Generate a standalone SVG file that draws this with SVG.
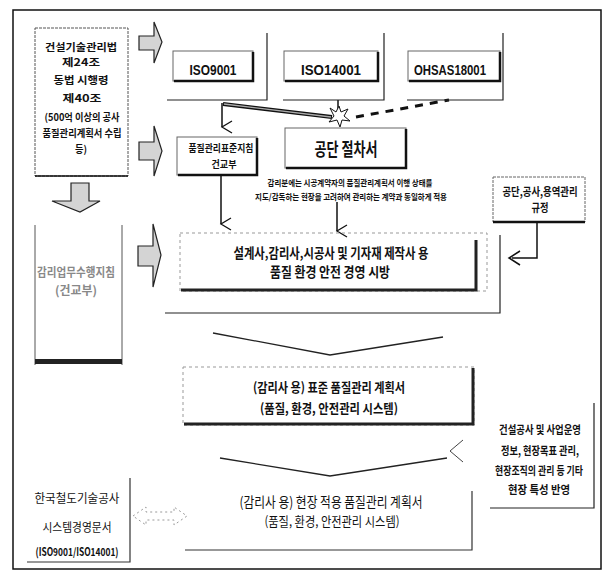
<svg xmlns="http://www.w3.org/2000/svg" width="604" height="574" viewBox="0 0 604 574">
<defs>
<style>
.t{font-family:"Noto Sans CJK KR","Liberation Sans",sans-serif;font-weight:bold;fill:#111;text-anchor:middle}
.r{font-family:"Noto Sans CJK KR","Liberation Sans",sans-serif;font-weight:normal;fill:#111;text-anchor:middle}
.l{font-family:"Liberation Sans","Noto Sans CJK KR",sans-serif;font-weight:bold;fill:#111;text-anchor:middle}
.g{fill:#888}
.box{fill:#fff;stroke:#555;stroke-width:1;stroke-dasharray:3 1}
.sh{fill:none;stroke:#111;stroke-width:2.5}
.fr{fill:none;stroke:#222;stroke-width:1.2}
.ln{fill:none;stroke:#111;stroke-width:1.5}
.blk{fill:#d4d4d4;stroke:#222;stroke-width:1.2}
.faint{fill:none;stroke:#999;stroke-width:1;stroke-dasharray:3 3}
</style>
<marker id="vh" markerWidth="14" markerHeight="14" refX="7" refY="12" orient="auto" markerUnits="userSpaceOnUse" viewBox="0 0 14 14">
<path d="M1,2 L7,12 L13,2" fill="none" stroke="#111" stroke-width="1.3"/>
</marker>
</defs>
<rect x="0" y="0" width="604" height="574" fill="#fff"/>
<rect x="13" y="10" width="588" height="559" fill="none" stroke="#111" stroke-width="1.5"/>

<g id="connectors">
<path class="blk" d="M139,36 H154 V22 L162,42 L154,63 V50 H139 Z"/>
<path class="blk" d="M139,142 H154 V126 L162,151 L154,176 V160 H139 Z"/>
<path class="blk" d="M138,246 H153 V224 L161,255 L153,287 V266 H138 Z"/>
<path class="blk" d="M71,183 H89 V201 H100 L80,212 L52,201 H71 Z"/>
<line class="ln" x1="222" y1="103" x2="222" y2="127" marker-end="url(#vh)"/>
<line class="ln" x1="221" y1="176" x2="221" y2="224" marker-end="url(#vh)"/>
<line class="ln" x1="337" y1="202" x2="337" y2="231" marker-end="url(#vh)"/>
<line x1="223" y1="104" x2="332" y2="117" stroke="#111" stroke-width="4"/>
<line x1="224" y1="104" x2="331" y2="117" stroke="#aaa" stroke-width="1.3"/>
<line class="ln" x1="338" y1="100" x2="338" y2="109"/>
<line x1="356" y1="117" x2="449" y2="100" stroke="#111" stroke-width="3" stroke-dasharray="8 7"/>
<path d="M330,108 L336,112 L339,106 L341,112 L348,109 L344,116 L350,121 L342,120 L340,127 L337,120 L329,122 L334,116 Z" fill="#fff" stroke="#111" stroke-width="1"/>
<path class="ln" d="M537,223 V258 H512"/>
<path d="M520,251 L509,258 L520,265" fill="none" stroke="#111" stroke-width="1.5"/>
<polyline points="213,333 330,355 443,337" fill="none" stroke="#222" stroke-width="1.3"/>
<polyline points="220,458 330,476 447,458" fill="none" stroke="#222" stroke-width="1.3"/>
<polyline points="463,440 450,451 463,462" fill="none" stroke="#444" stroke-width="1"/>
<path d="M133,516 L146,507 V512 H174 V507 L187,516 L174,525 V520 H146 V525 Z" fill="none" stroke="#999" stroke-width="1" stroke-dasharray="2 3"/>
</g>

<g id="n-law">
<rect class="box" x="35" y="28" width="93" height="148"/>
<line x1="35" y1="176" x2="128" y2="176" stroke="#111" stroke-width="1.5"/>
<text class="t" x="81" y="51" font-size="10.5" textLength="72" lengthAdjust="spacingAndGlyphs">건설기술관리법</text>
<text class="t" x="81" y="66" font-size="10.5" textLength="38" lengthAdjust="spacingAndGlyphs">제24조</text>
<text class="t" x="81" y="84" font-size="10.5" textLength="55" lengthAdjust="spacingAndGlyphs">동법 시행령</text>
<text class="t" x="82" y="102" font-size="10.5" textLength="39" lengthAdjust="spacingAndGlyphs">제40조</text>
<text class="t" x="82" y="121" font-size="10" textLength="75" lengthAdjust="spacingAndGlyphs">(500억 이상의 공사</text>
<text class="t" x="82" y="137" font-size="10" textLength="79" lengthAdjust="spacingAndGlyphs">품질관리계획서 수립</text>
<text class="t" x="81" y="153" font-size="10" textLength="12" lengthAdjust="spacingAndGlyphs">등)</text>
</g>

<g id="n-iso9001">
<path class="fr" d="M267,33 V100 H167"/>
<rect x="173" y="51" width="80" height="30" fill="#fff" stroke="#666" stroke-width="1"/>
<path class="sh" d="M253,52 V81 H174"/>
<text class="l" x="213" y="75" font-size="15" textLength="47" lengthAdjust="spacingAndGlyphs">ISO9001</text>
</g>

<g id="n-iso14001">
<path class="fr" d="M384,33 V100 H283"/>
<rect x="284" y="51" width="94" height="30" fill="#fff" stroke="#666" stroke-width="1"/>
<path class="sh" d="M378,52 V81 H285"/>
<text class="l" x="331" y="75" font-size="15" textLength="60" lengthAdjust="spacingAndGlyphs">ISO14001</text>
</g>

<g id="n-ohsas">
<path class="fr" d="M503,33 V100 H407"/>
<rect x="408" y="51" width="92" height="30" fill="#fff" stroke="#666" stroke-width="1"/>
<path class="sh" d="M500,52 V81 H409"/>
<text class="l" x="450" y="75" font-size="15" textLength="72" lengthAdjust="spacingAndGlyphs">OHSAS18001</text>
</g>

<g id="n-standard-guide">
<rect x="177" y="137" width="80" height="38" fill="#fff" stroke="#666" stroke-width="1"/>
<path class="sh" d="M257,138 V175 H178"/>
<text class="t" x="221" y="152" font-size="10" textLength="65" lengthAdjust="spacingAndGlyphs">품질관리표준지침</text>
<text class="t" x="224" y="168" font-size="10" textLength="25" lengthAdjust="spacingAndGlyphs">건교부</text>
</g>

<g id="n-procedure">
<rect x="285" y="128" width="121" height="40" fill="#fff" stroke="#666" stroke-width="1"/>
<path class="sh" d="M406,129 V168 H286"/>
<text class="t" x="346" y="156" font-size="18" textLength="63" lengthAdjust="spacingAndGlyphs">공단 절차서</text>
</g>

<g id="n-note">
<text class="t" x="350" y="186" font-size="8.5" textLength="165" lengthAdjust="spacingAndGlyphs">감리분에는 시공계약자의 품질관리계획서 이행 상태를</text>
<text class="t" x="351" y="200" font-size="8.5" textLength="192" lengthAdjust="spacingAndGlyphs">지도/감독하는 현장을 고려하여 관리하는 계약과 동일하게 적용</text>
</g>

<g id="n-rules">
<rect x="493" y="177" width="92" height="45" fill="#fff" stroke="#666" stroke-width="1" stroke-dasharray="3 1"/>
<line x1="493" y1="222" x2="585" y2="222" stroke="#111" stroke-width="2.5"/>
<text class="t" x="540" y="196" font-size="11" textLength="75" lengthAdjust="spacingAndGlyphs">공단,공사,용역관리</text>
<text class="t" x="540" y="212" font-size="11" textLength="17" lengthAdjust="spacingAndGlyphs">규정</text>
</g>

<g id="n-supervision">
<path d="M35,225 V365 M122,225 V365" fill="none" stroke="#555" stroke-width="1"/>
<rect x="35" y="359" width="87" height="5" fill="#222"/>
<text class="t g" x="76" y="277" font-size="12" textLength="78" lengthAdjust="spacingAndGlyphs">감리업무수행지침</text>
<text class="t g" x="76" y="295" font-size="12" textLength="42" lengthAdjust="spacingAndGlyphs">(건교부)</text>
</g>

<g id="n-spec">
<path class="fr" d="M500,235 V313 H165"/>
<rect x="180" y="233" width="307" height="58" class="faint"/>
<path d="M476,240 V290 H181" fill="none" stroke="#222" stroke-width="3"/>
<text class="t" x="331" y="258" font-size="13.5" textLength="195" lengthAdjust="spacingAndGlyphs">설계사,감리사,시공사 및 기자재 제작사 용</text>
<text class="t" x="330" y="277" font-size="13.5" textLength="120" lengthAdjust="spacingAndGlyphs">품질 환경 안전 경영 시방</text>
</g>

<g id="n-std-plan">
<rect x="183" y="367" width="291" height="58" class="faint"/>
<path d="M473,368 V424 H184" fill="none" stroke="#222" stroke-width="3"/>
<text class="t" x="329" y="392" font-size="13" textLength="152" lengthAdjust="spacingAndGlyphs">(감리사 용) 표준 품질관리 계획서</text>
<text class="t" x="329" y="413" font-size="13" textLength="138" lengthAdjust="spacingAndGlyphs">(품질, 환경, 안전관리 시스템)</text>
</g>

<g id="n-site-note">
<path class="fr" d="M594,403 V508 H490"/>
<text class="t" x="540" y="434" font-size="11" textLength="82" lengthAdjust="spacingAndGlyphs">건설공사 및 사업운영</text>
<text class="t" x="540" y="455" font-size="11" textLength="78" lengthAdjust="spacingAndGlyphs">정보, 현장목표 관리,</text>
<text class="t" x="539" y="475" font-size="11" textLength="88" lengthAdjust="spacingAndGlyphs">현장조직의 관리 등 기타</text>
<text class="t" x="539" y="494" font-size="11" textLength="62" lengthAdjust="spacingAndGlyphs">현장 특성 반영</text>
</g>

<g id="n-site-plan">
<path d="M472,491 V550 H185" fill="none" stroke="#333" stroke-width="1.2"/>
<text class="r" x="331" y="507" font-size="14" textLength="183" lengthAdjust="spacingAndGlyphs">(감리사 용) 현장 적용 품질관리 계획서</text>
<text class="r" x="332" y="526" font-size="13" textLength="135" lengthAdjust="spacingAndGlyphs">(품질, 환경, 안전관리 시스템)</text>
</g>

<g id="n-korail">
<path d="M130,478 V562 H27" fill="none" stroke="#333" stroke-width="1.2"/>
<text class="r" x="77" y="503" font-size="12" textLength="85" lengthAdjust="spacingAndGlyphs">한국철도기술공사</text>
<text class="r" x="77" y="532" font-size="12" textLength="69" lengthAdjust="spacingAndGlyphs">시스템경영문서</text>
<text class="t" x="77" y="556" font-size="11" textLength="83" lengthAdjust="spacingAndGlyphs">(ISO9001/ISO14001)</text>
</g>
</svg>
